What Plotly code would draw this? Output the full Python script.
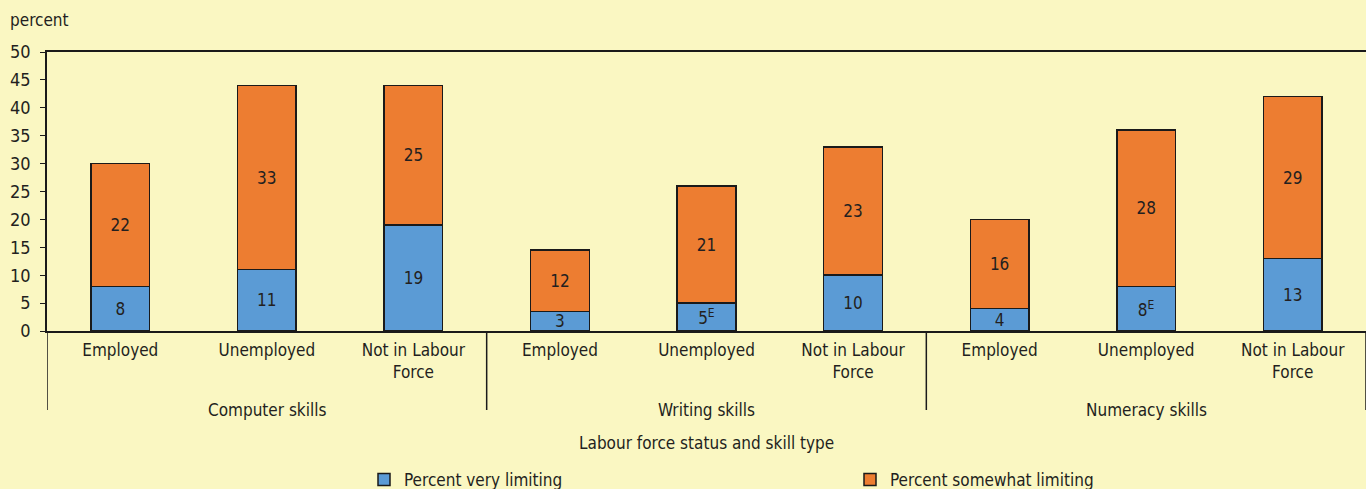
import plotly.graph_objects as go

statuses = ["Employed", "Unemployed", "Not in Labour<br>Force"]
skills = ["Computer skills", "Writing skills", "Numeracy skills"]
very_limiting = [8, 11, 19, 3.5, 5, 10, 4, 8, 13]
somewhat_limiting = [22, 33, 25, 11, 21, 23, 16, 28, 29]
very_labels = ["8", "11", "19", "3", "5<sup>E</sup>", "10", "4", "8<sup>E</sup>", "13"]
somewhat_labels = ["22", "33", "25", "12", "21", "23", "16", "28", "29"]
y_ticks = list(range(0, 55, 5))

FONT = "DejaVu Sans Condensed, Liberation Sans, sans-serif"
FS = 17
TXT = "#231f20"
BG = "#faf7c2"

n = len(very_limiting)
xs = list(range(n))
ticktext = [statuses[i % 3] for i in range(n)]

fig = go.Figure()
fig.add_trace(go.Bar(
    x=xs, y=very_limiting, name="Percent very limiting",
    marker=dict(color="#5b9bd5", line=dict(color="#1a1a1a", width=1.5)),
    text=very_labels, textposition="inside", insidetextanchor="middle",
    textangle=0, constraintext="none",
    textfont=dict(size=FS, color=TXT, family=FONT),
    width=0.4, legend="legend",
))
fig.add_trace(go.Bar(
    x=xs, y=somewhat_limiting, name="Percent somewhat limiting",
    marker=dict(color="#ed7d31", line=dict(color="#1a1a1a", width=1.5)),
    text=somewhat_labels, textposition="inside", insidetextanchor="middle",
    textangle=0, constraintext="none",
    textfont=dict(size=FS, color=TXT, family=FONT),
    width=0.4, legend="legend2",
))

ploth = 331 - 52
plotw = 1366 - 47
annotations = []
for g, s in enumerate(skills):
    annotations.append(dict(
        x=g * 3 + 1, y=-(410 - 331) / ploth, xref="x", yref="paper",
        text=s, showarrow=False, yanchor="middle",
        font=dict(size=FS, color=TXT, family=FONT)))
annotations.append(dict(
    x=0.5, y=-(443 - 331) / ploth, xref="paper", yref="paper",
    text="Labour force status and skill type", showarrow=False, yanchor="middle",
    font=dict(size=FS, color=TXT, family=FONT)))
annotations.append(dict(
    x=(8 - 47) / plotw, y=(331 - 20) / ploth, xref="paper", yref="paper",
    text="percent", showarrow=False, xanchor="left", yanchor="middle",
    font=dict(size=FS, color=TXT, family=FONT)))

shapes = []
for b in [-0.5, 2.5, 5.5, 8.5]:
    shapes.append(dict(type="line", xref="x", yref="paper",
                       x0=b, x1=b, y0=0, y1=-(410 - 331) / ploth,
                       line=dict(color="#1a1a1a", width=1.5)))

legend_common = dict(orientation="h", xanchor="left", yanchor="middle",
                     y=-(480 - 331) / ploth, bgcolor="rgba(0,0,0,0)",
                     font=dict(size=FS, color=TXT, family=FONT),
                     itemwidth=30)

fig.update_layout(
    barmode="stack",
    width=1366, height=489,
    paper_bgcolor=BG, plot_bgcolor=BG,
    margin=dict(l=47, r=0, t=52, b=158, autoexpand=False),
    font=dict(family=FONT, size=FS, color=TXT),
    showlegend=True,
    legend=dict(x=(364 - 47) / plotw, **legend_common),
    legend2=dict(x=(850 - 47) / plotw, **legend_common),
    annotations=annotations,
    shapes=shapes,
    xaxis=dict(range=[-0.5, 8.5], tickvals=xs, ticktext=ticktext,
               showline=True, linecolor="#1a1a1a", linewidth=1.5, mirror=True,
               ticks="", showgrid=False, zeroline=False, ticklabelstandoff=3,
               tickfont=dict(size=FS, color=TXT, family=FONT)),
    yaxis=dict(range=[0, 50], tickvals=y_ticks, showline=True,
               linecolor="#1a1a1a", linewidth=1.5, ticks="outside", ticklen=5,
               tickcolor="#1a1a1a", showgrid=False, zeroline=False,
               ticklabelstandoff=6,
               tickfont=dict(size=FS + 1, color=TXT, family=FONT)),
    uniformtext=dict(minsize=FS, mode="show"),
)

fig.write_html("out.html", config={"displayModeBar": False},
               post_script="document.body.style.margin='0px';")
